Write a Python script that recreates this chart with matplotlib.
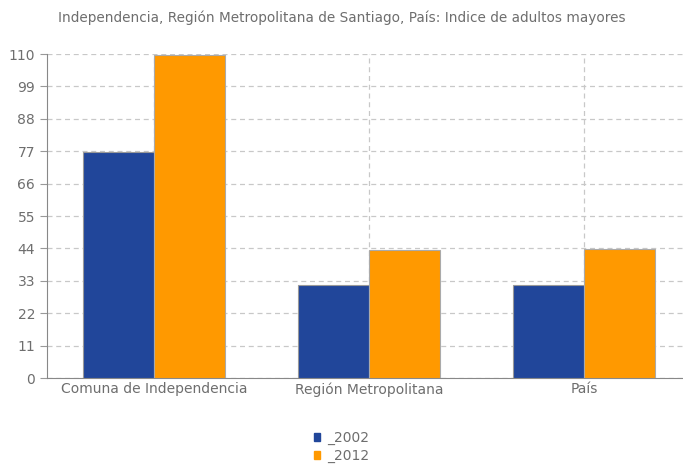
import numpy as np
import matplotlib
matplotlib.use("Agg")
import matplotlib.pyplot as plt
from matplotlib.patches import Patch

categories = ["Comuna de Independencia", "Región Metropolitana", "País"]
series_names = ["_2002", "_2012"]
values_2002 = [76.6, 31.6, 31.6]
values_2012 = [109.6, 43.3, 43.9]
yticks = [0, 11, 22, 33, 44, 55, 66, 77, 88, 99, 110]

blue = "#21469a"
orange = "#ff9900"
text_gray = "#6e6e6e"
grid_gray = "#c8c8c8"

plt.rcParams["font.family"] = ["DejaVu Sans"]

fig = plt.figure(figsize=(6.83, 4.68), dpi=100)
ax = fig.add_axes([47 / 683, 1 - 378 / 468, 1 - 47 / 683, (378 - 54) / 468])

x = np.arange(len(categories))
w = 0.33
ax.bar(x - w / 2, values_2002, w, color=blue, edgecolor="#999999", linewidth=0.8, zorder=3)
ax.bar(x + w / 2, values_2012, w, color=orange, edgecolor="#aaaaaa", linewidth=0.8, zorder=3)

ax.set_xlim(-0.498, 2.46)
ax.set_ylim(0, 110)
ax.set_yticks(yticks)
ax.set_xticks(x)
ax.set_xticklabels(categories)
ax.tick_params(axis="y", colors="#999999", labelcolor=text_gray, labelsize=10, length=5, direction="out")
ax.tick_params(axis="x", length=0, labelcolor=text_gray, labelsize=10, pad=3)

ax.grid(True, axis="both", color=grid_gray, linestyle=(0, (4, 3)), linewidth=0.9, zorder=0)
for side in ["top", "right"]:
    ax.spines[side].set_visible(False)
ax.spines["left"].set_color("#888888")
ax.spines["bottom"].set_color("#888888")

fig.text(0.5, 1 - 18 / 468, "Independencia, Región Metropolitana de Santiago, País: Indice de adultos mayores",
         ha="center", va="center", color=text_gray, fontsize=9.8)

handles = [Patch(color=blue), Patch(color=orange)]
fig.legend(handles, series_names, loc="center", bbox_to_anchor=(0.5, 1 - 447 / 468),
           frameon=False, fontsize=10, labelcolor=text_gray, handlelength=0.45, handleheight=0.45,
           handletextpad=0.5, labelspacing=0.25)

fig.savefig("out.png", dpi=100)
